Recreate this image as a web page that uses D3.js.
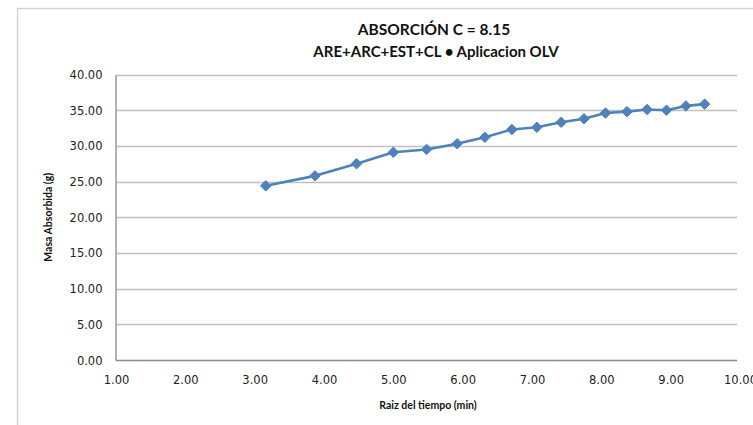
<!DOCTYPE html>
<html>
<head>
<meta charset="utf-8">
<script src="https://cdn.jsdelivr.net/npm/d3@7"></script>
<style>
  html, body { margin: 0; padding: 0; background: #fff; }
  svg { display: block; }
  text { font-family: Lato, "Open Sans", "Liberation Sans", sans-serif; }
  .tick text { font-family: "DejaVu Sans", sans-serif; }
</style>
</head>
<body>
<svg id="chart" width="753" height="425"></svg>
<script>
// Raíz del tiempo (min) y masa absorbida (g)
const raizTiempo = [3.16, 3.87, 4.47, 5.00, 5.48, 5.92, 6.32, 6.71, 7.07, 7.42, 7.75, 8.06, 8.37, 8.66, 8.94, 9.22, 9.49];
const masaAbsorbida = [24.4, 25.8, 27.5, 29.1, 29.5, 30.3, 31.2, 32.3, 32.6, 33.3, 33.8, 34.6, 34.8, 35.1, 35.0, 35.6, 35.85];
const xTicks = [1, 2, 3, 4, 5, 6, 7, 8, 9, 10];
const yTicks = [0, 5, 10, 15, 20, 25, 30, 35, 40];
const titulo1 = "ABSORCIÓN C = 8.15";
const titulo2 = "ARE+ARC+EST+CL  \u2022 Aplicacion OLV";
const ejeX = "Raiz del tiempo (min)";
const ejeY = "Masa Absorbida  (g)";

const svg = d3.select("#chart");
const plot = { left: 116, right: 740, top: 74.5, bottom: 360 };

const x = d3.scaleLinear().domain([1, 10]).range([plot.left, plot.right]);
const y = d3.scaleLinear().domain([0, 40]).range([plot.bottom, plot.top]);

// marco exterior del gráfico
svg.append("rect")
  .attr("x", 17.5).attr("y", 8.5)
  .attr("width", 760).attr("height", 440)
  .attr("fill", "none").attr("stroke", "#d0d0d0").attr("stroke-width", 1.3);

// líneas de cuadrícula horizontales
svg.append("g")
  .selectAll("line")
  .data(yTicks.filter(d => d > 0))
  .join("line")
  .attr("x1", plot.left).attr("x2", x(10) - 3)
  .attr("y1", d => Math.round(y(d)) + 0.5).attr("y2", d => Math.round(y(d)) + 0.5)
  .attr("stroke", "#c0c0c0").attr("stroke-width", 1.3);

// eje Y
const yAxis = svg.append("g")
  .attr("transform", `translate(${plot.left - 0.5},0)`)
  .call(d3.axisLeft(y).tickValues(yTicks).tickFormat(d3.format(".2f")).tickSize(0).tickPadding(13));
yAxis.select(".domain").attr("stroke", "#8a8a8a").attr("stroke-width", 1.3);
yAxis.selectAll("text").attr("font-size", 11.5).attr("fill", "#222").attr("dy", "0.35em");

// eje X
const xAxis = svg.append("g")
  .attr("transform", `translate(0,${plot.bottom + 0.5})`)
  .call(d3.axisBottom(x).tickValues(xTicks).tickFormat(d3.format(".2f")).tickSize(0).tickPadding(15));
xAxis.select(".domain").attr("stroke", "#8a8a8a").attr("stroke-width", 1.3)
  .attr("d", `M${plot.left},0H${x(10) - 3}`);
xAxis.selectAll("text").attr("font-size", 11.5).attr("fill", "#222");

// serie
const pts = raizTiempo.map((v, i) => [v, masaAbsorbida[i]]);
svg.append("path")
  .datum(pts)
  .attr("fill", "none")
  .attr("stroke", "#4f81bd")
  .attr("stroke-width", 2.6)
  .attr("stroke-linejoin", "round")
  .attr("d", d3.line().x(d => x(d[0])).y(d => y(d[1])));

svg.append("g")
  .selectAll("path")
  .data(pts)
  .join("path")
  .attr("transform", d => `translate(${x(d[0])},${y(d[1])})`)
  .attr("d", d3.symbol().type(d3.symbolDiamond2).size(70))
  .attr("fill", "#4f81bd")
  .attr("stroke", "#4f81bd")
  .attr("stroke-width", 1);

// títulos
svg.append("text")
  .attr("x", 434).attr("y", 35)
  .attr("text-anchor", "middle")
  .attr("font-size", 15.5).attr("font-weight", "bold").attr("fill", "#111")
  .text(titulo1);
svg.append("text")
  .attr("x", 436).attr("y", 57)
  .attr("text-anchor", "middle")
  .attr("font-size", 15).attr("font-weight", "bold").attr("fill", "#111")
  .text(titulo2);

svg.append("text")
  .attr("x", 428).attr("y", 409)
  .attr("text-anchor", "middle")
  .attr("font-size", 10.5).attr("font-weight", "bold").attr("fill", "#111")
  .text(ejeX);

svg.append("text")
  .attr("transform", `translate(52,${(plot.top + plot.bottom) / 2}) rotate(-90)`)
  .attr("text-anchor", "middle")
  .attr("font-size", 10.5).attr("font-weight", "bold").attr("fill", "#111")
  .text(ejeY);
</script>
</body>
</html>
